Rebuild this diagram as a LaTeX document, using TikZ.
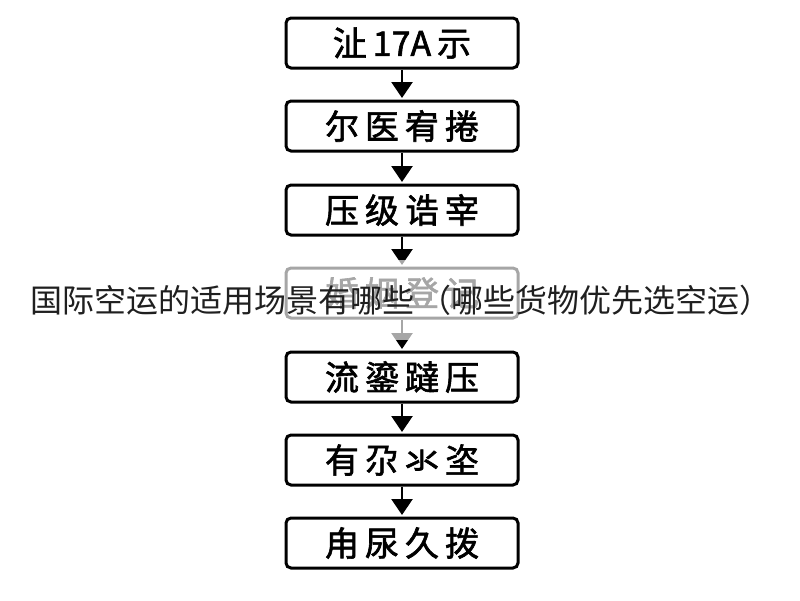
\documentclass[tikz,border=0pt]{standalone}
\usepackage{fontspec}
\newfontfamily\cjk{Noto Sans CJK SC}
\newfontfamily\cjkb[FakeBold=1.8]{Noto Sans CJK SC}
\usetikzlibrary{arrows.meta}
\newcommand{\gapk}{\kern6pt}
\tikzset{
  stepbox/.style={draw=black, line width=3pt, rounded corners=5pt, minimum width=232pt, minimum height=50pt, inner sep=0pt, font=\cjkb\fontsize{34}{34}\selectfont},
  flow/.style={line width=2.6pt, -{Triangle[length=16pt,width=21pt]}, shorten >=1.5pt}
}
\begin{document}
\begin{tikzpicture}[x=1pt,y=-1pt]
\useasboundingbox (0,0) rectangle (800,600);
\fill[white] (0,0) rectangle (800,600);
\node[stepbox] (b1) at (402,43) {沚\gapk{}{\itshape 1}7A\gapk{}示};
\node[stepbox] (b2) at (402,126) {尔\gapk 医\gapk 宥\gapk 捲};
\node[stepbox] (b3) at (402,210) {压\gapk 级\gapk 诰\gapk 宰};
\node[stepbox] (b4) at (402,293) {婚\gapk 姻\gapk 登\gapk 记};
\node[stepbox] (b5) at (402,377) {流\gapk 鎏\gapk 躂\gapk 压};
\node[stepbox] (b6) at (402,460) {有\gapk 尕\gapk 氺\gapk 垐};
\node[stepbox] (b7) at (402,543) {甪\gapk 尿\gapk 久\gapk 拨};
\draw[flow] (b1) -- (b2);
\draw[flow] (b2) -- (b3);
\draw[flow] (b3) -- (b4);
\draw[flow] (b4) -- (b5);
\draw[flow] (b5) -- (b6);
\draw[flow] (b6) -- (b7);
\fill[white, opacity=0.65] (0,260) rectangle (800,340);
\node[font=\cjk\fontsize{32}{32}\selectfont, text=black!88, inner sep=0pt] (title) at (401,300) {国际空运的适用场景有哪些\kern6pt（哪些货物优先选空运）};
\end{tikzpicture}
\end{document}
